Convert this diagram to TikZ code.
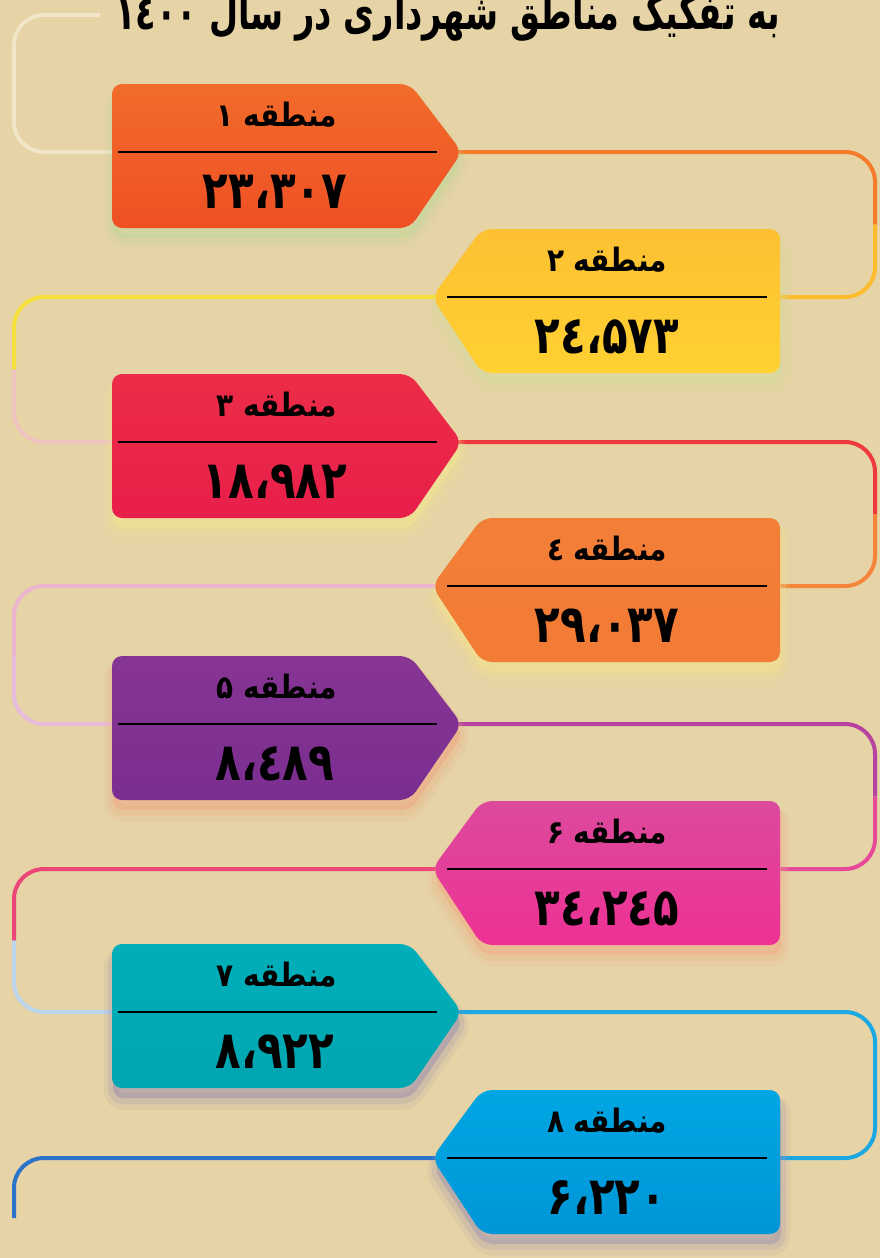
\documentclass[tikz,border=0pt]{standalone}
\usepackage{fontspec}
\usetikzlibrary{calc}
\newfontfamily\fa[Script=Arabic]{DejaVu Sans}
\TeXXeTstate=1
\definecolor{bgc}{HTML}{E6D3A6}
\definecolor{c0}{HTML}{F2E6C8}
\definecolor{c1a}{HTML}{F47C2B}\definecolor{c1b}{HTML}{FCBC2E}
\definecolor{c2a}{HTML}{F5E03C}\definecolor{c2b}{HTML}{EEC3C0}
\definecolor{c3a}{HTML}{EE3A3F}\definecolor{c3b}{HTML}{F4853A}
\definecolor{c4a}{HTML}{EDB4CE}\definecolor{c4b}{HTML}{E8BCDD}
\definecolor{c5a}{HTML}{B8429F}\definecolor{c5b}{HTML}{E6489A}
\definecolor{c6a}{HTML}{EC4578}\definecolor{c6b}{HTML}{BAD5EC}
\definecolor{c7a}{HTML}{1BA9E3}\definecolor{c7b}{HTML}{1CA6E2}
\definecolor{c8}{HTML}{2B73C8}
\definecolor{t1a}{HTML}{F26C2B}\definecolor{t1b}{HTML}{EE5024}\definecolor{s1}{HTML}{C5D59A}
\definecolor{t2a}{HTML}{FDC033}\definecolor{t2b}{HTML}{FFD131}\definecolor{s2}{HTML}{D6DC9C}
\definecolor{t3a}{HTML}{EC2C47}\definecolor{t3b}{HTML}{E81F4B}\definecolor{s3}{HTML}{F3E690}
\definecolor{t4a}{HTML}{F27F37}\definecolor{t4b}{HTML}{F27B36}\definecolor{s4}{HTML}{F3E28E}
\definecolor{t5a}{HTML}{873594}\definecolor{t5b}{HTML}{7A2E90}\definecolor{s5}{HTML}{EEA985}
\definecolor{t6a}{HTML}{DC4A9C}\definecolor{t6b}{HTML}{EE3195}\definecolor{s6}{HTML}{EFAE88}
\definecolor{t7a}{HTML}{00AFBA}\definecolor{t7b}{HTML}{00A6B1}\definecolor{s7}{HTML}{9E93AE}
\definecolor{t8a}{HTML}{00A6E3}\definecolor{t8b}{HTML}{0096D8}\definecolor{s8}{HTML}{A597AE}
\pgfdeclarelayer{bgfill}\pgfdeclarelayer{links}
\pgfsetlayers{bgfill,links,main}
\tikzset{
  tagtext/.style={font=\fa\bfseries\fontsize{14}{16}\selectfont, inner sep=0pt, anchor=base},
  numtext/.style={font=\fa\bfseries\fontsize{21}{24}\selectfont, inner sep=0pt, anchor=base},
  divider/.style={line width=0.8pt, black},
  link/.style={line width=2pt, rounded corners=15pt},
  tagshape/.style={rounded corners=5pt}
}
% number with Arabic comma: each group boxed so the groups keep their order
\newcommand\NumSep[2]{\scalebox{1}[1.25]{\hbox{#1}\hbox{،}\hbox{#2}}}
\newcommand\Lab[1]{\scalebox{1}[1.15]{#1}}
% left tag (points right)
\newcommand\LTag[7]{%
  \fill[#7, opacity=.55, tagshape, shift={(1,10)}] (112,#2-68) -- (410,#2-68) -- (462,#2) -- (410,#2+76) -- (112,#2+76) -- cycle;
  \draw[#7, opacity=.22, line width=5pt, line join=round, tagshape, shift={(1,11)}] (112,#2-68) -- (410,#2-68) -- (462,#2) -- (410,#2+76) -- (112,#2+76) -- cycle;
  \draw[#7, opacity=.12, line width=9pt, line join=round, tagshape, shift={(1,13)}] (112,#2-68) -- (410,#2-68) -- (462,#2) -- (410,#2+76) -- (112,#2+76) -- cycle;
  \shade[top color=#5, bottom color=#6, tagshape] (112,#2-68) -- (410,#2-68) -- (462,#2) -- (410,#2+76) -- (112,#2+76) -- cycle;
  \coordinate (#1tip) at (458,#2);
  \coordinate (#1in) at (114,#2);
  \draw[divider] (118,#2) -- (437,#2);
  \node[tagtext] (#1lab) at (277,#2-26) {#3};
  \node[numtext] (#1num) at (275,#2+56) {#4};
}
% right tag (points left)
\newcommand\RTag[7]{%
  \fill[#7, opacity=.55, tagshape, shift={(1,10)}] (780,#2-68) -- (482,#2-68) -- (432,#2) -- (482,#2+76) -- (780,#2+76) -- cycle;
  \draw[#7, opacity=.22, line width=5pt, line join=round, tagshape, shift={(1,11)}] (780,#2-68) -- (482,#2-68) -- (432,#2) -- (482,#2+76) -- (780,#2+76) -- cycle;
  \draw[#7, opacity=.12, line width=9pt, line join=round, tagshape, shift={(1,13)}] (780,#2-68) -- (482,#2-68) -- (432,#2) -- (482,#2+76) -- (780,#2+76) -- cycle;
  \shade[top color=#5, bottom color=#6, tagshape] (780,#2-68) -- (482,#2-68) -- (432,#2) -- (482,#2+76) -- (780,#2+76) -- cycle;
  \coordinate (#1tip) at (436,#2);
  \coordinate (#1in) at (778,#2);
  \draw[divider] (447,#2) -- (767,#2);
  \node[tagtext] (#1lab) at (607,#2-26) {#3};
  \node[numtext] (#1num) at (607,#2+56) {#4};
}
\begin{document}
\begin{tikzpicture}[x=0.5pt,y=-0.5pt]
\useasboundingbox (0,0) rectangle (880,1258);
\clip (0,0) rectangle (880,1258);
\begin{pgfonlayer}{bgfill}
  \fill[bgc] (0,0) rectangle (880,1258);
\end{pgfonlayer}

\node[font=\fa\bfseries\fontsize{21}{24}\selectfont, inner sep=0pt, anchor=base] (title) at (448,29)
  {\scalebox{0.8}[1.15]{\beginR به تفکیک مناطق شهرداری در سال \beginL ۱٤۰۰\endL\endR}};

\LTag{a}{152}{\Lab{\beginR منطقه ۱\endR}}{\NumSep{۲۳}{۳۰۷}}{t1a}{t1b}{s1}
\RTag{b}{297}{\Lab{\beginR منطقه ۲\endR}}{\NumSep{۲٤}{۵۷۳}}{t2a}{t2b}{s2}
\LTag{c}{442}{\Lab{\beginR منطقه ۳\endR}}{\NumSep{۱۸}{۹۸۲}}{t3a}{t3b}{s3}
\RTag{d}{586}{\Lab{\beginR منطقه ٤\endR}}{\NumSep{۲۹}{۰۳۷}}{t4a}{t4b}{s4}
\LTag{e}{724}{\Lab{\beginR منطقه ۵\endR}}{\NumSep{۸}{٤۸۹}}{t5a}{t5b}{s5}
\RTag{f}{869}{\Lab{\beginR منطقه ۶\endR}}{\NumSep{۳٤}{۲٤۵}}{t6a}{t6b}{s6}
\LTag{g}{1012}{\Lab{\beginR منطقه ۷\endR}}{\NumSep{۸}{۹۲۲}}{t7a}{t7b}{s7}
\RTag{h}{1158}{\Lab{\beginR منطقه ۸\endR}}{\NumSep{۶}{۲۲۰}}{t8a}{t8b}{s8}

\coordinate (L) at (14,0);
\coordinate (R) at (875,0);
\coordinate (start) at (100,15);
\coordinate (tailend) at (14,1218);

\begin{pgfonlayer}{links}
  \draw[link, c0] (start) -- (start -| L) -- (ain -| L) -- (ain);
  % a -> b
  \coordinate (m1) at ($(atip -| R)!0.5!(bin -| R)$);
  \draw[link, c1a] (atip) -- (atip -| R) -- (m1);
  \draw[link, c1b] (m1) -- (bin -| R) -- (bin);
  % b -> c
  \coordinate (m2) at ($(btip -| L)!0.5!(cin -| L)$);
  \draw[link, c2a] (btip) -- (btip -| L) -- (m2);
  \draw[link, c2b] (m2) -- (cin -| L) -- (cin);
  % c -> d
  \coordinate (m3) at ($(ctip -| R)!0.5!(din -| R)$);
  \draw[link, c3a] (ctip) -- (ctip -| R) -- (m3);
  \draw[link, c3b] (m3) -- (din -| R) -- (din);
  % d -> e
  \coordinate (m4) at ($(dtip -| L)!0.5!(ein -| L)$);
  \draw[link, c4a] (dtip) -- (dtip -| L) -- (m4);
  \draw[link, c4b] (m4) -- (ein -| L) -- (ein);
  % e -> f
  \coordinate (m5) at ($(etip -| R)!0.5!(fin -| R)$);
  \draw[link, c5a] (etip) -- (etip -| R) -- (m5);
  \draw[link, c5b] (m5) -- (fin -| R) -- (fin);
  % f -> g
  \coordinate (m6) at ($(ftip -| L)!0.5!(gin -| L)$);
  \draw[link, c6a] (ftip) -- (ftip -| L) -- (m6);
  \draw[link, c6b] (m6) -- (gin -| L) -- (gin);
  % g -> h
  \coordinate (m7) at ($(gtip -| R)!0.5!(hin -| R)$);
  \draw[link, c7a] (gtip) -- (gtip -| R) -- (m7);
  \draw[link, c7b] (m7) -- (hin -| R) -- (hin);
  % tail
  \draw[link, c8] (htip) -- (htip -| L) -- (tailend);
\end{pgfonlayer}
\end{tikzpicture}
\end{document}
